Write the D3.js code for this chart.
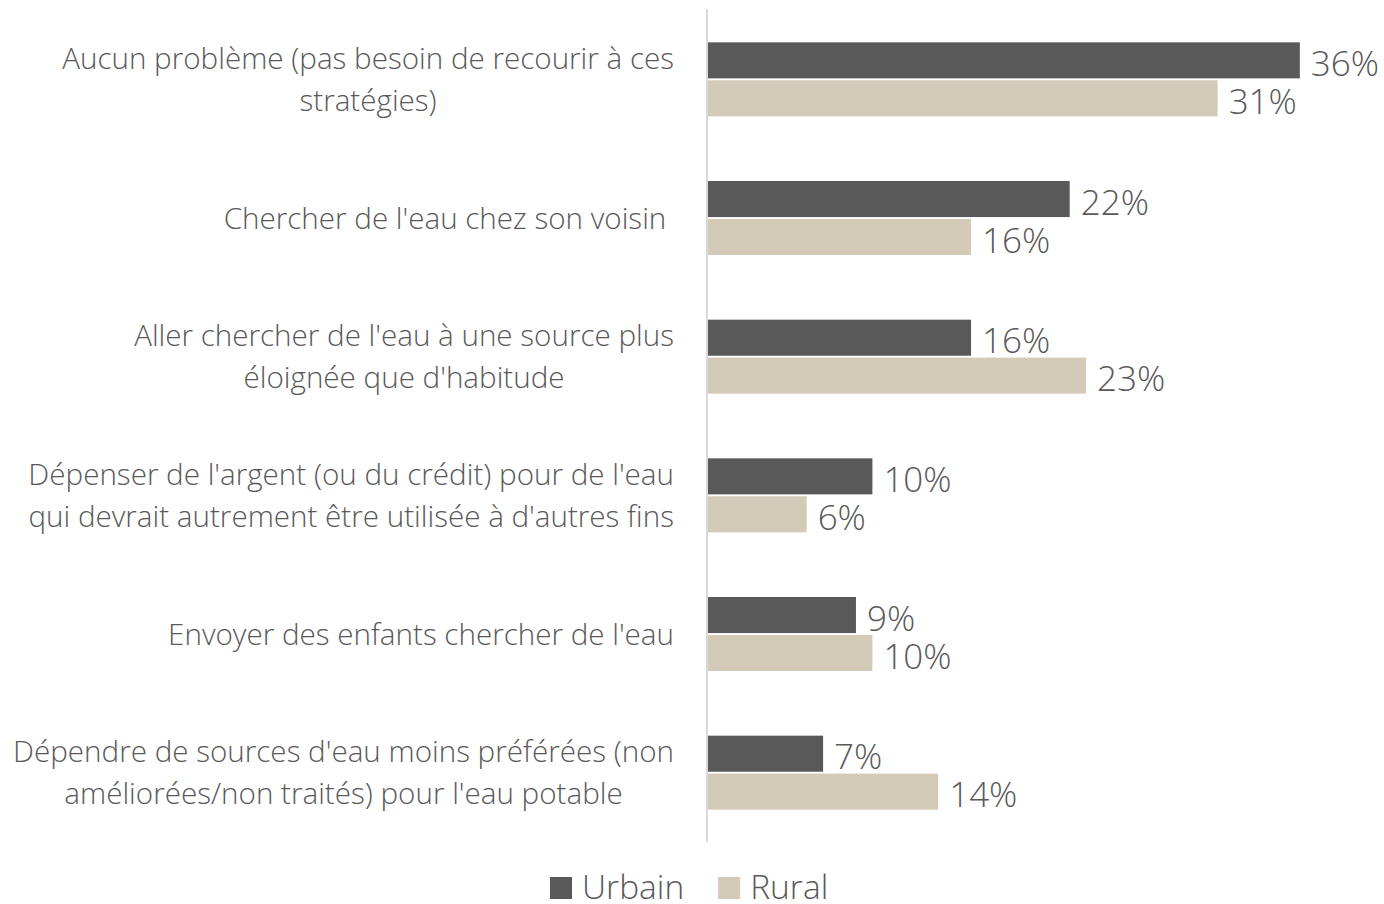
<!DOCTYPE html>
<html><head><meta charset="utf-8">
<script src="https://cdn.jsdelivr.net/npm/d3@7"></script>
<style>
html,body{margin:0;padding:0;background:#fff;}
svg{display:block;font-family:"Open Sans",sans-serif;font-weight:300;}
</style></head>
<body><svg id="c" width="1384" height="904"></svg>
<script>
const categories = [
  ["Aucun problème (pas besoin de recourir à ces", "stratégies)"],
  ["Chercher de l'eau chez son voisin\u00a0"],
  ["Aller chercher de l'eau à une source plus", "éloignée que d'habitude"],
  ["Dépenser de l'argent (ou du crédit) pour de l'eau", "qui devrait autrement être utilisée à d'autres fins"],
  ["Envoyer des enfants chercher de l'eau"],
  ["Dépendre de sources d'eau moins préférées (non", "améliorées/non traités) pour l'eau potable"]
];
const seriesNames = ["Urbain", "Rural"];
const urbain = [36, 22, 16, 10, 9, 7];
const rural = [31, 16, 23, 6, 10, 14];
const colors = ["#595959", "#d3cbb8"];

const svg = d3.select("#c");
const keys = categories.map((c, i) => i);
const y0 = d3.scaleBand().domain(keys).range([10, 842]).paddingInner(0.4664).paddingOuter(0.2332);
const y1 = d3.scaleBand().domain(seriesNames).range([0, y0.bandwidth()]).paddingInner(0.05);
const x = d3.scaleLinear().domain([0, 40]).range([708, 708 + 16.44 * 40]);
const color = d3.scaleOrdinal().domain(seriesNames).range(colors);

const data = keys.map(i => ({i, vals: [{s: "Urbain", v: urbain[i]}, {s: "Rural", v: rural[i]}]}));

const g = svg.selectAll("g.grp").data(data).join("g").attr("class", "grp")
  .attr("transform", d => `translate(0,${y0(d.i)})`);
g.selectAll("rect").data(d => d.vals).join("rect")
  .attr("x", x(0)).attr("y", d => y1(d.s))
  .attr("width", d => x(d.v) - x(0)).attr("height", y1.bandwidth())
  .attr("fill", d => color(d.s));
g.selectAll("text.val").data(d => d.vals).join("text").attr("class", "val")
  .attr("x", d => x(d.v) + 11).attr("y", d => y1(d.s) + y1.bandwidth() / 2 + 3)
  .attr("dy", "0.36em").attr("font-size", 35).attr("fill", "#595959")
  .text(d => d.v + "%");

// axis line
const yAxis = d3.axisLeft(y0).tickSize(0).tickFormat("");
svg.append("g").attr("transform", `translate(${x(0) - 1},0)`).call(yAxis)
  .call(a => a.select(".domain").attr("stroke", "#d9d9d9").attr("stroke-width", 2).attr("d", "M0,9V842"));

// category labels
const labelRight = 674, lineH = 42;
const lg = svg.append("g").attr("font-size", 29.6).attr("fill", "#595959");
categories.forEach((lines, i) => {
  const cy = y0(i) + y0.bandwidth() / 2;
  const t = lg.append("text").attr("text-anchor", "middle").style("white-space", "pre");
  const spans = lines.map((l, j) => t.append("tspan").text(l));
  const widths = spans.map(s => s.node().getComputedTextLength());
  const maxW = d3.max(widths);
  const cx = labelRight - maxW / 2;
  const n = lines.length;
  spans.forEach((s, j) => s.attr("x", cx).attr("y", cy + (j - (n - 1) / 2) * lineH).attr("dy", "0.36em"));
});

// legend
const leg = svg.append("g").attr("font-size", 33.5).attr("fill", "#595959");
let lx = 550;
seriesNames.forEach((s, i) => {
  leg.append("rect").attr("x", lx).attr("y", 877).attr("width", 22).attr("height", 22).attr("fill", color(s));
  const t = leg.append("text").attr("x", lx + 32).attr("y", 887).attr("dy", "0.36em").text(s);
  lx = lx + 32 + t.node().getComputedTextLength() + 34;
});
</script></body></html>
